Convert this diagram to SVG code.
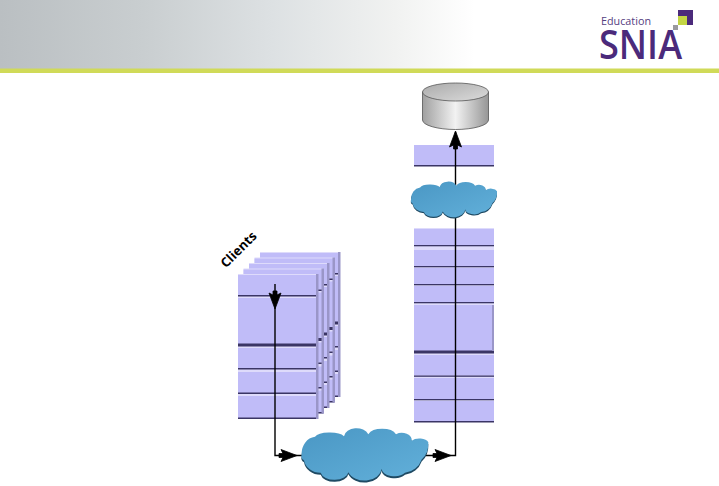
<svg xmlns="http://www.w3.org/2000/svg" xmlns:xlink="http://www.w3.org/1999/xlink" width="719" height="486" viewBox="0 0 719 486">
<style>
.band{fill:#c0bcf8}
.hi{fill:#dedbfb}
.ln{fill:#3a3565}
.side{fill:#9a96c8}
.wire{fill:none;stroke:#000;stroke-width:1.4}
.edge{fill:#1f4a63}
</style>
<defs>
<linearGradient id="hdr" x1="0" x2="1" y1="0" y2="0"><stop offset="0" stop-color="#babfc2"/><stop offset="0.2" stop-color="#c9ced0"/><stop offset="0.38" stop-color="#dde1e3"/><stop offset="0.55" stop-color="#f1f2f1"/><stop offset="0.66" stop-color="#fff"/></linearGradient>
<linearGradient id="cyl" x1="0" x2="1" y1="0" y2="0"><stop offset="0" stop-color="#a0a0a0"/><stop offset="0.5" stop-color="#f2f2f2"/><stop offset="1" stop-color="#969696"/></linearGradient>
<linearGradient id="cyltop" x1="0" x2="1" y1="0" y2="1"><stop offset="0" stop-color="#aaa"/><stop offset="1" stop-color="#dcdcdc"/></linearGradient>
<linearGradient id="cl" x1="0" x2="1" y1="0" y2="1"><stop offset="0" stop-color="#4a97c4"/><stop offset="1" stop-color="#62b0da"/></linearGradient>
<path id="cloud" d="M5 105A45 50 0 0 1 45 52A46 18 0 0 1 132 50A38 28 0 0 1 205 44A44 24 0 0 1 288 44A30 22 0 0 1 335 64A28 16 0 0 1 385 68A50 60 0 0 1 365 120A60 60 0 0 1 315 160A38 22 0 0 1 245 148A52 40 0 0 1 145 158A42 26 0 0 1 62 160A50 45 0 0 1 12 122A14 14 0 0 1 5 105Z"/>
<path id="ah" d="M-18 -2L-14 -2L-16 -6L0 0L-16 6L-14 2L-18 2Z" stroke="#000" stroke-width="0.800" stroke-linejoin="round"/>
<g id="lay">
<rect class="hi" x="0" y="0" width="80" height="145"/>
<rect class="band" x="0" y="1" width="80" height="20"/><rect class="ln" x="0" y="21" width="80" height="1.500"/>
<rect class="band" x="0" y="24" width="80" height="47"/><rect class="ln" x="0" y="69.500" width="80" height="3"/>
<rect class="band" x="0" y="74" width="80" height="20"/><rect class="ln" x="0" y="94" width="80" height="1.500"/>
<rect class="band" x="0" y="98" width="80" height="21"/><rect class="ln" x="0" y="118.500" width="80" height="1.500"/>
<rect class="band" x="0" y="122" width="80" height="22"/><rect class="ln" x="0" y="143.500" width="80" height="1.500"/>
<rect class="side" x="78" y="0" width="2.500" height="145"/>
</g>
</defs>
<rect width="719" height="486" fill="#fff"/>
<g id="header">
<rect width="719" height="69" fill="url(#hdr)"/>
<rect y="68.500" width="719" height="4.500" fill="#d0da58"/>
</g>
<g id="logo">
<rect x="678" y="10" width="15" height="15" fill="#4b2a7b"/>
<rect x="678" y="16" width="9" height="9" fill="#c3d544"/>
<rect x="673" y="25" width="5" height="5" fill="#9a9a9f"/>
<text x="601" y="24.500" font-family="'Open Sans','Liberation Sans',sans-serif" font-size="10.500" fill="#55407f" textLength="50" lengthAdjust="spacingAndGlyphs">Education</text>
<text x="599" y="59" font-family="'Open Sans','Liberation Sans',sans-serif" font-size="39" font-weight="600" fill="#4b2a7b" textLength="83" lengthAdjust="spacingAndGlyphs">SNIA</text>
</g>
<g id="clients-stack">
<use xlink:href="#lay" href="#lay" x="260" y="252"/>
<use xlink:href="#lay" href="#lay" x="254.500" y="257.500"/>
<use xlink:href="#lay" href="#lay" x="249" y="263"/>
<use xlink:href="#lay" href="#lay" x="243.500" y="268.500"/>
<use xlink:href="#lay" href="#lay" x="238" y="274"/>
</g>
<g id="clients-label">
<text transform="translate(226 268.500) rotate(-45)" font-family="'Open Sans','Liberation Sans',sans-serif" font-size="13" font-weight="700" fill="#000">Clients</text>
</g>
<g id="server-stack">
<rect class="hi" x="414" y="228" width="80" height="194"/>
<rect class="band" x="414" y="229" width="80" height="16"/><rect class="ln" x="414" y="245" width="80" height="1.300"/>
<rect class="band" x="414" y="250" width="80" height="16"/><rect class="ln" x="414" y="266" width="80" height="1.300"/>
<rect class="band" x="414" y="268" width="80" height="16"/><rect class="ln" x="414" y="284" width="80" height="1.300"/>
<rect class="band" x="414" y="286" width="80" height="16"/><rect class="ln" x="414" y="302" width="80" height="1.300"/>
<rect class="band" x="414" y="305" width="80" height="46"/><rect class="ln" x="414" y="350.500" width="80" height="3"/>
<rect class="band" x="414" y="355" width="80" height="20.500"/><rect class="ln" x="414" y="375.500" width="80" height="1.300"/>
<rect class="band" x="414" y="378" width="80" height="21"/><rect class="ln" x="414" y="399" width="80" height="1.300"/>
<rect class="band" x="414" y="401" width="80" height="20"/><rect class="ln" x="414" y="421" width="80" height="1.500"/>
<rect class="side" x="492" y="305" width="2" height="46"/>
</g>
<g id="top-block">
<rect class="band" x="414" y="145" width="80" height="20"/><rect class="ln" x="414" y="165" width="80" height="1.500"/>
</g>
<g id="connectors">
<path class="wire" d="M275 284V455.500H455.500V132"/>
<use xlink:href="#ah" href="#ah" transform="translate(275 309) rotate(90)"/>
<use xlink:href="#ah" href="#ah" transform="translate(297 455.500)"/>
<use xlink:href="#ah" href="#ah" transform="translate(451 455.500)"/>
<use xlink:href="#ah" href="#ah" transform="translate(455.500 131) rotate(-90)"/>
</g>
<g id="cylinder">
<path d="M422.500 92V120A33 9.500 0 0 0 488.500 120V92Z" fill="url(#cyl)" stroke="#555" stroke-width="0.800"/>
<ellipse cx="455.500" cy="92" rx="33" ry="9" fill="url(#cyltop)" stroke="#555" stroke-width="0.800"/>
</g>
<g id="cloud-top">
<use xlink:href="#cloud" href="#cloud" class="edge" transform="translate(409.900 176.900) scale(.2263 .227)"/>
<use xlink:href="#cloud" href="#cloud" fill="url(#cl)" transform="translate(409.900 175.700) scale(.2263 .227)"/>
</g>
<g id="cloud-bottom">
<use xlink:href="#cloud" href="#cloud" class="edge" transform="translate(300 421.500) scale(.3333)"/>
<use xlink:href="#cloud" href="#cloud" fill="url(#cl)" transform="translate(300 419.500) scale(.3333)"/>
</g>
</svg>
